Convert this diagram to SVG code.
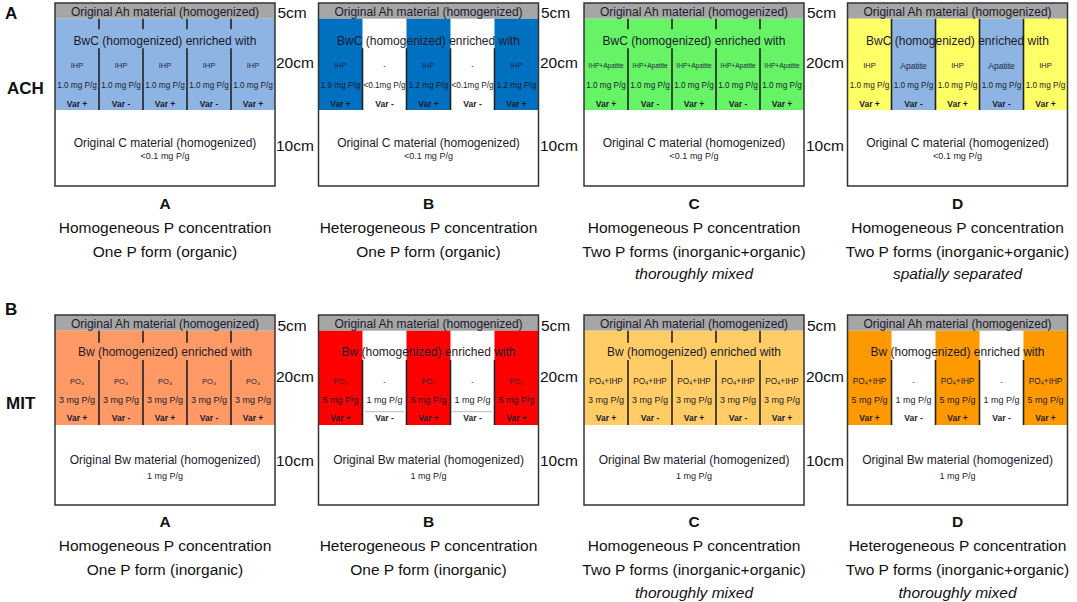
<svg xmlns="http://www.w3.org/2000/svg" width="1077" height="602" viewBox="0 0 1077 602">
<style>
text{font-family:"Liberation Sans",Arial,sans-serif;fill:#1c1c2c;text-anchor:middle;dominant-baseline:central}
.hd{font-size:12px}
.sm{font-size:7.5px;fill:#26263e}
.ap{font-size:6.6px;fill:#26263e}
.mg{font-size:8.2px}
.mg9{font-size:9px}
.vr{font-size:8.5px;font-weight:bold}
.lt{font-size:9px}
.cm{font-size:15.5px;text-anchor:start;fill:#111}
.lb{font-size:15.5px;fill:#111}
.lbb{font-size:15.5px;font-weight:bold;fill:#111}
.it{font-style:italic}
.side{font-size:17px;font-weight:bold;text-anchor:start;fill:#111}
.dv{stroke:#222;stroke-width:1.6}
.gl{stroke:#c8c8c8;stroke-width:1.2}
.frame{fill:none;stroke:#333;stroke-width:1.5}
.hdr{fill:#a6a6a6}
</style>

<g id="row-labels">
<text class="side" x="5" y="13">A</text>
<text class="side" x="7" y="88">ACH</text>
<text class="side" x="5" y="309">B</text>
<text class="side" x="6" y="403">MIT</text>
</g>

<!-- ===== Row A (ACH) ===== -->
<g id="ach-a">
<rect x="55" y="3" width="220" height="183" fill="#fff"/>
<rect class="hdr" x="55" y="3" width="220" height="15.7"/>
<rect x="55" y="18.7" width="220" height="91.3" fill="#8db4e2"/>
<g class="dv"><path d="M99 18.7V29.3M143 18.7V29.3M187 18.7V29.3M231 18.7V29.3M99 48.3V110M143 48.3V110M187 48.3V110M231 48.3V110"/></g>
<rect class="frame" x="55" y="3" width="220" height="183"/>
<text class="hd" x="165" y="12">Original Ah material (homogenized)</text>
<text class="hd" x="165" y="40.5">BwC (homogenized) enriched with</text>
<text class="sm" x="77" y="65.7">IHP</text><text class="sm" x="121" y="65.7">IHP</text><text class="sm" x="165" y="65.7">IHP</text><text class="sm" x="209" y="65.7">IHP</text><text class="sm" x="253" y="65.7">IHP</text>
<text class="mg" x="77" y="85">1.0 mg P/g</text><text class="mg" x="121" y="85">1.0 mg P/g</text><text class="mg" x="165" y="85">1.0 mg P/g</text><text class="mg" x="209" y="85">1.0 mg P/g</text><text class="mg" x="253" y="85">1.0 mg P/g</text>
<text class="vr" x="77" y="104">Var +</text><text class="vr" x="121" y="104">Var -</text><text class="vr" x="165" y="104">Var +</text><text class="vr" x="209" y="104">Var -</text><text class="vr" x="253" y="104">Var +</text>
<text class="hd" x="165" y="143.3">Original C material (homogenized)</text>
<text class="lt" x="165" y="156">&lt;0.1 mg P/g</text>
<text class="cm" x="277.5" y="12.7">5cm</text><text class="cm" x="276" y="62">20cm</text><text class="cm" x="276" y="145.7">10cm</text>
<text class="lbb" x="165" y="203">A</text>
<text class="lb" x="165" y="227.5">Homogeneous P concentration</text>
<text class="lb" x="165" y="251.5">One P form (organic)</text>
</g>

<g id="ach-b">
<rect x="318.5" y="3" width="220" height="183" fill="#fff"/>
<rect class="hdr" x="318.5" y="3" width="220" height="15.7"/>
<rect x="318.5" y="18.7" width="44" height="91.3" fill="#0070c0"/>
<rect x="406.5" y="18.7" width="44" height="91.3" fill="#0070c0"/>
<rect x="494.5" y="18.7" width="44" height="91.3" fill="#0070c0"/>
<g class="dv"><path d="M362.5 48.3V110M406.5 48.3V110M450.5 48.3V110M494.5 48.3V110"/></g>
<rect class="frame" x="318.5" y="3" width="220" height="183"/>
<text class="hd" x="428.5" y="12">Original Ah material (homogenized)</text>
<text class="hd" x="428.5" y="40.5">BwC (homogenized) enriched with</text>
<text class="sm" x="340.5" y="65.7">IHP</text><text class="sm" x="384.5" y="65.7">-</text><text class="sm" x="428.5" y="65.7">IHP</text><text class="sm" x="472.5" y="65.7">-</text><text class="sm" x="516.5" y="65.7">IHP</text>
<text class="mg" x="340.5" y="85">1.9 mg P/g</text><text class="mg" x="384.5" y="85">&lt;0.1mg P/g</text><text class="mg" x="428.5" y="85">1.2 mg P/g</text><text class="mg" x="472.5" y="85">&lt;0.1mg P/g</text><text class="mg" x="516.5" y="85">1.2 mg P/g</text>
<text class="vr" x="340.5" y="104">Var +</text><text class="vr" x="384.5" y="104">Var -</text><text class="vr" x="428.5" y="104">Var +</text><text class="vr" x="472.5" y="104">Var -</text><text class="vr" x="516.5" y="104">Var +</text>
<text class="hd" x="428.5" y="143.3">Original C material (homogenized)</text>
<text class="lt" x="428.5" y="156">&lt;0.1 mg P/g</text>
<text class="cm" x="541" y="12.7">5cm</text><text class="cm" x="540" y="62">20cm</text><text class="cm" x="540" y="145.7">10cm</text>
<text class="lbb" x="428.5" y="203">B</text>
<text class="lb" x="428.5" y="227.5">Heterogeneous P concentration</text>
<text class="lb" x="428.5" y="251.5">One P form (organic)</text>
</g>

<g id="ach-c">
<rect x="584" y="3" width="220" height="183" fill="#fff"/>
<rect class="hdr" x="584" y="3" width="220" height="15.7"/>
<rect x="584" y="18.7" width="220" height="91.3" fill="#66f466"/>
<g class="dv"><path d="M628 18.7V29.3M672 18.7V29.3M716 18.7V29.3M760 18.7V29.3M628 48.3V110M672 48.3V110M716 48.3V110M760 48.3V110"/></g>
<rect class="frame" x="584" y="3" width="220" height="183"/>
<text class="hd" x="694" y="12">Original Ah material (homogenized)</text>
<text class="hd" x="694" y="40.5">BwC (homogenized) enriched with</text>
<text class="ap" x="606" y="65.7">IHP+Apatite</text><text class="ap" x="650" y="65.7">IHP+Apatite</text><text class="ap" x="694" y="65.7">IHP+Apatite</text><text class="ap" x="738" y="65.7">IHP+Apatite</text><text class="ap" x="782" y="65.7">IHP+Apatite</text>
<text class="mg" x="606" y="85">1.0 mg P/g</text><text class="mg" x="650" y="85">1.0 mg P/g</text><text class="mg" x="694" y="85">1.0 mg P/g</text><text class="mg" x="738" y="85">1.0 mg P/g</text><text class="mg" x="782" y="85">1.0 mg P/g</text>
<text class="vr" x="606" y="104">Var +</text><text class="vr" x="650" y="104">Var -</text><text class="vr" x="694" y="104">Var +</text><text class="vr" x="738" y="104">Var -</text><text class="vr" x="782" y="104">Var +</text>
<text class="hd" x="694" y="143.3">Original C material (homogenized)</text>
<text class="lt" x="694" y="156">&lt;0.1 mg P/g</text>
<text class="cm" x="807" y="12.7">5cm</text><text class="cm" x="806" y="62">20cm</text><text class="cm" x="806" y="145.7">10cm</text>
<text class="lbb" x="694" y="203">C</text>
<text class="lb" x="694" y="227.5">Homogeneous P concentration</text>
<text class="lb" x="694" y="251.5">Two P forms (inorganic+organic)</text>
<text class="lb it" x="694" y="273">thoroughly mixed</text>
</g>

<g id="ach-d">
<rect x="847.5" y="3" width="220" height="183" fill="#fff"/>
<rect class="hdr" x="847.5" y="3" width="220" height="15.7"/>
<rect x="847.5" y="18.7" width="220" height="91.3" fill="#ffff66"/>
<rect x="891.5" y="18.7" width="44" height="91.3" fill="#8db4e2"/>
<rect x="979.5" y="18.7" width="44" height="91.3" fill="#8db4e2"/>
<g class="dv"><path d="M891.5 18.7V110M935.5 18.7V110M979.5 18.7V110M1023.5 18.7V110"/></g>
<rect class="frame" x="847.5" y="3" width="220" height="183"/>
<text class="hd" x="957.5" y="12">Original Ah material (homogenized)</text>
<text class="hd" x="957.5" y="40.5">BwC (homogenized) enriched with</text>
<text class="sm" x="869.5" y="65.7">IHP</text><text class="sm" x="913.5" y="65.7" style="font-size:8.5px">Apatite</text><text class="sm" x="957.5" y="65.7">IHP</text><text class="sm" x="1001.5" y="65.7" style="font-size:8.5px">Apatite</text><text class="sm" x="1045.5" y="65.7">IHP</text>
<text class="mg" x="869.5" y="85">1.0 mg P/g</text><text class="mg" x="913.5" y="85">1.0 mg P/g</text><text class="mg" x="957.5" y="85">1.0 mg P/g</text><text class="mg" x="1001.5" y="85">1.0 mg P/g</text><text class="mg" x="1045.5" y="85">1.0 mg P/g</text>
<text class="vr" x="869.5" y="104">Var +</text><text class="vr" x="913.5" y="104">Var -</text><text class="vr" x="957.5" y="104">Var +</text><text class="vr" x="1001.5" y="104">Var -</text><text class="vr" x="1045.5" y="104">Var +</text>
<text class="hd" x="957.5" y="143.3">Original C material (homogenized)</text>
<text class="lt" x="957.5" y="156">&lt;0.1 mg P/g</text>
<text class="lbb" x="957.5" y="203">D</text>
<text class="lb" x="957.5" y="227.5">Homogeneous P concentration</text>
<text class="lb" x="957.5" y="251.5">Two P forms (inorganic+organic)</text>
<text class="lb it" x="957.5" y="273">spatially separated</text>
</g>

<!-- ===== Row B (MIT) ===== -->
<g id="mit-a">
<rect x="55" y="315" width="220" height="190" fill="#fff"/>
<rect class="hdr" x="55" y="315" width="220" height="15.7"/>
<rect x="55" y="330.7" width="220" height="94.3" fill="#ff9966"/>
<g class="dv"><path d="M99 330.7V342.7M143 330.7V342.7M187 330.7V342.7M231 330.7V342.7M99 360V425M143 360V425M187 360V425M231 360V425"/></g>
<rect class="frame" x="55" y="315" width="220" height="190"/>
<text class="hd" x="165" y="324">Original Ah material (homogenized)</text>
<text class="hd" x="165" y="352.3">Bw (homogenized) enriched with</text>
<text class="sm" x="77" y="381">PO₄</text><text class="sm" x="121" y="381">PO₄</text><text class="sm" x="165" y="381">PO₄</text><text class="sm" x="209" y="381">PO₄</text><text class="sm" x="253" y="381">PO₄</text>
<text class="mg9" x="77" y="400">3 mg P/g</text><text class="mg9" x="121" y="400">3 mg P/g</text><text class="mg9" x="165" y="400">3 mg P/g</text><text class="mg9" x="209" y="400">3 mg P/g</text><text class="mg9" x="253" y="400">3 mg P/g</text>
<text class="vr" x="77" y="418.3">Var +</text><text class="vr" x="121" y="418.3">Var -</text><text class="vr" x="165" y="418.3">Var +</text><text class="vr" x="209" y="418.3">Var -</text><text class="vr" x="253" y="418.3">Var +</text>
<text class="hd" x="165" y="460.3">Original Bw material (homogenized)</text>
<text class="lt" x="165" y="475.7">1 mg P/g</text>
<text class="cm" x="277.5" y="325.7">5cm</text><text class="cm" x="276" y="376.7">20cm</text><text class="cm" x="276" y="460">10cm</text>
<text class="lbb" x="165" y="521">A</text>
<text class="lb" x="165" y="545">Homogeneous P concentration</text>
<text class="lb" x="165" y="569">One P form (inorganic)</text>
</g>

<g id="mit-b">
<rect x="318.5" y="315" width="220" height="190" fill="#fff"/>
<rect class="hdr" x="318.5" y="315" width="220" height="15.7"/>
<rect x="318.5" y="330.7" width="44" height="94.3" fill="#ff0000"/>
<rect x="406.5" y="330.7" width="44" height="94.3" fill="#ff0000"/>
<rect x="494.5" y="330.7" width="44" height="94.3" fill="#ff0000"/>
<g class="gl"><path d="M365 411.7H404M452.5 411.7H492"/></g>
<g class="dv"><path d="M362.5 360V425M406.5 360V425M450.5 360V425M494.5 360V425"/></g>
<rect class="frame" x="318.5" y="315" width="220" height="190"/>
<text class="hd" x="428.5" y="324">Original Ah material (homogenized)</text>
<text class="hd" x="428.5" y="352.3">Bw (homogenized) enriched with</text>
<text class="sm" x="340.5" y="381">PO₄</text><text class="sm" x="384.5" y="381">-</text><text class="sm" x="428.5" y="381">PO₄</text><text class="sm" x="472.5" y="381">-</text><text class="sm" x="516.5" y="381">PO₄</text>
<text class="mg9" x="340.5" y="400">5 mg P/g</text><text class="mg9" x="384.5" y="400">1 mg P/g</text><text class="mg9" x="428.5" y="400">5 mg P/g</text><text class="mg9" x="472.5" y="400">1 mg P/g</text><text class="mg9" x="516.5" y="400">5 mg P/g</text>
<text class="vr" x="340.5" y="418.3">Var +</text><text class="vr" x="384.5" y="418.3">Var -</text><text class="vr" x="428.5" y="418.3">Var +</text><text class="vr" x="472.5" y="418.3">Var -</text><text class="vr" x="516.5" y="418.3">Var +</text>
<text class="hd" x="428.5" y="460.3">Original Bw material (homogenized)</text>
<text class="lt" x="428.5" y="475.7">1 mg P/g</text>
<text class="cm" x="541" y="325.7">5cm</text><text class="cm" x="540" y="376.7">20cm</text><text class="cm" x="540" y="460">10cm</text>
<text class="lbb" x="428.5" y="521">B</text>
<text class="lb" x="428.5" y="545">Heterogeneous P concentration</text>
<text class="lb" x="428.5" y="569">One P form (inorganic)</text>
</g>

<g id="mit-c">
<rect x="584" y="315" width="220" height="190" fill="#fff"/>
<rect class="hdr" x="584" y="315" width="220" height="15.7"/>
<rect x="584" y="330.7" width="220" height="94.3" fill="#ffcc66"/>
<g class="dv"><path d="M628 330.7V342.7M672 330.7V342.7M716 330.7V342.7M760 330.7V342.7M628 360V425M672 360V425M716 360V425M760 360V425"/></g>
<rect class="frame" x="584" y="315" width="220" height="190"/>
<text class="hd" x="694" y="324">Original Ah material (homogenized)</text>
<text class="hd" x="694" y="352.3">Bw (homogenized) enriched with</text>
<text class="mg" x="606" y="381">PO₄+IHP</text><text class="mg" x="650" y="381">PO₄+IHP</text><text class="mg" x="694" y="381">PO₄+IHP</text><text class="mg" x="738" y="381">PO₄+IHP</text><text class="mg" x="782" y="381">PO₄+IHP</text>
<text class="mg9" x="606" y="400">3 mg P/g</text><text class="mg9" x="650" y="400">3 mg P/g</text><text class="mg9" x="694" y="400">3 mg P/g</text><text class="mg9" x="738" y="400">3 mg P/g</text><text class="mg9" x="782" y="400">3 mg P/g</text>
<text class="vr" x="606" y="418.3">Var +</text><text class="vr" x="650" y="418.3">Var -</text><text class="vr" x="694" y="418.3">Var +</text><text class="vr" x="738" y="418.3">Var -</text><text class="vr" x="782" y="418.3">Var +</text>
<text class="hd" x="694" y="460.3">Original Bw material (homogenized)</text>
<text class="lt" x="694" y="475.7">1 mg P/g</text>
<text class="cm" x="807" y="325.7">5cm</text><text class="cm" x="806" y="376.7">20cm</text><text class="cm" x="806" y="460">10cm</text>
<text class="lbb" x="694" y="521">C</text>
<text class="lb" x="694" y="545">Homogeneous P concentration</text>
<text class="lb" x="694" y="569">Two P forms (inorganic+organic)</text>
<text class="lb it" x="694" y="592">thoroughly mixed</text>
</g>

<g id="mit-d">
<rect x="847.5" y="315" width="220" height="190" fill="#fff"/>
<rect class="hdr" x="847.5" y="315" width="220" height="15.7"/>
<rect x="847.5" y="330.7" width="44" height="94.3" fill="#ff9900"/>
<rect x="935.5" y="330.7" width="44" height="94.3" fill="#ff9900"/>
<rect x="1023.5" y="330.7" width="44" height="94.3" fill="#ff9900"/>
<g class="dv"><path d="M891.5 360V425M935.5 360V425M979.5 360V425M1023.5 360V425"/></g>
<rect class="frame" x="847.5" y="315" width="220" height="190"/>
<text class="hd" x="957.5" y="324">Original Ah material (homogenized)</text>
<text class="hd" x="957.5" y="352.3">Bw (homogenized) enriched with</text>
<text class="mg" x="869.5" y="381">PO₄+IHP</text><text class="sm" x="913.5" y="381">-</text><text class="mg" x="957.5" y="381">PO₄+IHP</text><text class="sm" x="1001.5" y="381">-</text><text class="mg" x="1045.5" y="381">PO₄+IHP</text>
<text class="mg9" x="869.5" y="400">5 mg P/g</text><text class="mg9" x="913.5" y="400">1 mg P/g</text><text class="mg9" x="957.5" y="400">5 mg P/g</text><text class="mg9" x="1001.5" y="400">1 mg P/g</text><text class="mg9" x="1045.5" y="400">5 mg P/g</text>
<text class="vr" x="869.5" y="418.3">Var +</text><text class="vr" x="913.5" y="418.3">Var -</text><text class="vr" x="957.5" y="418.3">Var +</text><text class="vr" x="1001.5" y="418.3">Var -</text><text class="vr" x="1045.5" y="418.3">Var +</text>
<text class="hd" x="957.5" y="460.3">Original Bw material (homogenized)</text>
<text class="lt" x="957.5" y="475.7">1 mg P/g</text>
<text class="lbb" x="957.5" y="521">D</text>
<text class="lb" x="957.5" y="545">Heterogeneous P concentration</text>
<text class="lb" x="957.5" y="569">Two P forms (inorganic+organic)</text>
<text class="lb it" x="957.5" y="592">thoroughly mixed</text>
</g>

<g id="connectors"></g>
</svg>
